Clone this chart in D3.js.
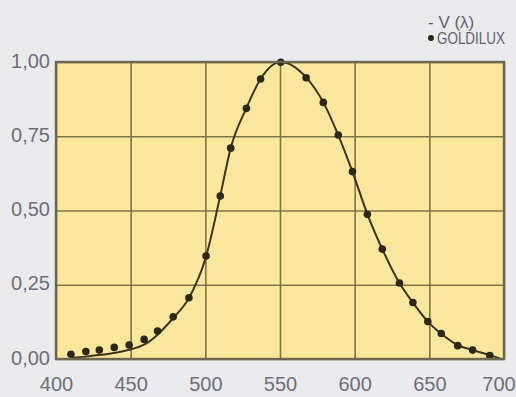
<!DOCTYPE html>
<html>
<head>
<meta charset="utf-8">
<script src="https://cdn.jsdelivr.net/npm/d3@7"></script>
<style>
  body { margin: 0; background: #ebebed; }
  svg { display: block; }
  .tick text { font-family: "Liberation Sans", Arial, sans-serif; fill: #6d6f7c; }
</style>
</head>
<body>
<svg id="chart" width="516" height="397"></svg>
<script>
// V(lambda) curve
var curveNm = [410, 420, 430, 440, 449, 459, 468, 478.5, 489, 500.5, 510, 517, 527.5, 537, 550.5, 567.5, 579, 589, 598.5, 608.5, 618.5, 630, 639, 649, 658, 669, 679, 690.5, 698];
var curveV = [0.004, 0.008, 0.014, 0.021, 0.031, 0.048, 0.082, 0.138, 0.205, 0.345, 0.55, 0.71, 0.845, 0.943, 1.0, 0.948, 0.864, 0.754, 0.631, 0.488, 0.37, 0.256, 0.19, 0.126, 0.085, 0.047, 0.03, 0.013, 0.0];

// GOLDILUX measured points
var goldNm = [410, 420, 429, 439, 449, 459, 468, 478.5, 489, 500.5, 510, 517, 527.5, 537, 550.5, 567.5, 579, 589, 598.5, 608.5, 618.5, 630, 639, 649, 658, 669, 679, 690.5];
var goldV = [0.016, 0.025, 0.030, 0.039, 0.047, 0.066, 0.094, 0.142, 0.206, 0.347, 0.549, 0.71, 0.844, 0.943, 0.999, 0.947, 0.864, 0.754, 0.631, 0.487, 0.37, 0.256, 0.19, 0.126, 0.086, 0.045, 0.03, 0.012];

var xTicks = [400, 450, 500, 550, 600, 650, 700];
var yTicks = [0, 0.25, 0.5, 0.75, 1];
var legendLabels = ["- V (\u03bb)", "GOLDILUX"];

var svg = d3.select("#chart"),
    margin = { top: 62, right: 12, bottom: 38, left: 56 },
    width = +svg.attr("width") - margin.left - margin.right,
    height = +svg.attr("height") - margin.top - margin.bottom;

var x = d3.scaleLinear().domain([400, 700]).range([0, width]),
    y = d3.scaleLinear().domain([0, 1]).range([height, 0]);

var g = svg.append("g")
    .attr("transform", "translate(" + margin.left + "," + margin.top + ")");

g.append("rect")
    .attr("width", width)
    .attr("height", height)
    .attr("fill", "#fce89c");

// grid
g.append("g")
    .attr("class", "grid")
    .attr("transform", "translate(0," + height + ")")
    .call(d3.axisBottom(x).tickValues(xTicks).tickSize(-height).tickFormat(""))
    .call(function (s) { s.select(".domain").remove(); });

g.append("g")
    .attr("class", "grid")
    .call(d3.axisLeft(y).tickValues(yTicks).tickSize(-width).tickFormat(""))
    .call(function (s) { s.select(".domain").remove(); });

g.selectAll(".grid line")
    .attr("stroke", "#7f7448")
    .attr("stroke-width", 1.6);

// curve
var line = d3.line()
    .x(function (d) { return x(d[0]); })
    .y(function (d) { return y(d[1]); })
    .curve(d3.curveMonotoneX);

g.append("path")
    .datum(d3.zip(curveNm, curveV))
    .attr("fill", "none")
    .attr("stroke", "#3a3420")
    .attr("stroke-width", 2)
    .attr("d", line);

g.selectAll(".dot")
    .data(d3.zip(goldNm, goldV))
    .enter().append("circle")
    .attr("class", "dot")
    .attr("cx", function (d) { return x(d[0]); })
    .attr("cy", function (d) { return y(d[1]); })
    .attr("r", 3.8)
    .attr("fill", "#2b2818");

// frame
g.append("rect")
    .attr("width", width)
    .attr("height", height)
    .attr("fill", "none")
    .attr("stroke", "#6c6752")
    .attr("stroke-width", 2.4);

// axes
var xAxis = g.append("g")
    .attr("transform", "translate(0," + height + ")")
    .call(d3.axisBottom(x).tickValues(xTicks).tickSize(0).tickPadding(18));

var yAxis = g.append("g")
    .call(d3.axisLeft(y).tickValues(yTicks).tickSize(0).tickPadding(6)
        .tickFormat(function (d) { return d3.format(".2f")(d).replace(".", ","); }));

xAxis.select(".domain").remove();
yAxis.select(".domain").remove();
svg.selectAll(".tick text").attr("font-size", 20);
xAxis.selectAll(".tick text").filter(function (d) { return d === 700; }).attr("dx", -5.5);
yAxis.selectAll(".tick text").attr("dy", "0.25em");

// legend
var legend = svg.append("g")
    .attr("font-family", "Liberation Sans, Arial, sans-serif")
    .attr("fill", "#5f6170");

legend.append("text")
    .attr("x", 428)
    .attr("y", 28)
    .attr("font-size", 17)
    .text(legendLabels[0]);

legend.append("circle")
    .attr("cx", 431)
    .attr("cy", 38)
    .attr("r", 3)
    .attr("fill", "#2b2818");

// condensed look, like the printed legend
legend.append("text")
    .attr("transform", "translate(437,44) scale(0.84,1)")
    .attr("font-size", 16)
    .text(legendLabels[1]);
</script>
</body>
</html>
